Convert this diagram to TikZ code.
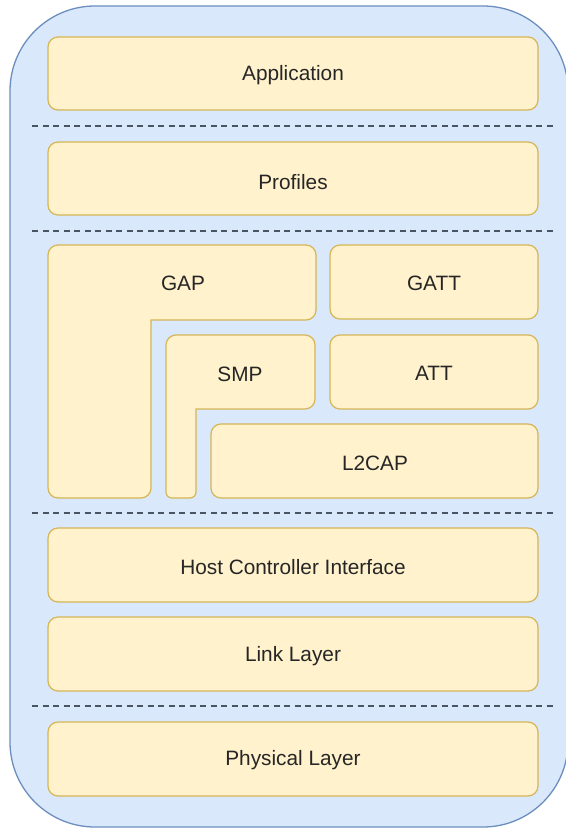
\documentclass[tikz,border=0pt]{standalone}
\usepackage{fontspec}
\setmainfont{Liberation Sans}
\definecolor{outerfill}{HTML}{DAE8FC}
\definecolor{outerdraw}{HTML}{6C8EBF}
\definecolor{boxfill}{HTML}{FFF2CC}
\definecolor{boxdraw}{HTML}{D6B656}
\definecolor{sepcol}{HTML}{4A5563}
\tikzset{
  layer/.style={draw=boxdraw, fill=boxfill, line width=1.2pt, rounded corners=10pt},
  lbl/.style={font=\fontsize{20.8}{24}\selectfont, text=black!85, inner sep=0pt},
  sep/.style={draw=sepcol, line width=2pt, dash pattern=on 6pt off 4.5pt},
}
\begin{document}
\begin{tikzpicture}[x=1pt,y=-1pt]
\useasboundingbox (0,0) rectangle (565,829);
% outer container
\draw[draw=outerdraw, fill=outerfill, line width=1.3pt, rounded corners=85pt] (10,6) rectangle (568,827);
% layer boxes
\draw[layer] (48,37) rectangle (538,110);
\node[lbl] (app) at (293,75) {Application};
\draw[layer] (48,142) rectangle (538,215);
\node[lbl] (prof) at (293,182) {Profiles};
% GAP L-shape
\draw[layer] (48,245) -- (316,245) -- (316,320) [sharp corners] -- (151,320) [rounded corners=10pt] -- (151,498) -- (48,498) -- cycle;
\node[lbl] (gap) at (183,283) {GAP};
\draw[layer] (330,245) rectangle (538,319);
\node[lbl] (gatt) at (434,283) {GATT};
% SMP L-shape
\draw[layer] (166,335) -- (315,335) -- (315,409) [sharp corners] -- (196,409) [rounded corners=6pt] -- (196,498) -- (166,498) [rounded corners=10pt] -- cycle;
\node[lbl] (smp) at (240,374) {SMP};
\draw[layer] (330,335) rectangle (538,409);
\node[lbl] (att) at (434,373) {ATT};
\draw[layer] (211,424) rectangle (538,498);
\node[lbl] (l2cap) at (375,463) {L2CAP};
\draw[layer] (48,528) rectangle (538,602);
\node[lbl] (hci) at (293,567) {Host Controller Interface};
\draw[layer] (48,617) rectangle (538,691);
\node[lbl] (ll) at (293,656) {Link Layer};
\draw[layer] (48,722) rectangle (538,796);
\node[lbl] (phy) at (293,760) {Physical Layer};
% separators
\coordinate (s1a) at (32,126); \coordinate (s1b) at (553,126);
\coordinate (s2a) at (32,231); \coordinate (s2b) at (553,231);
\coordinate (s3a) at (32,513); \coordinate (s3b) at (553,513);
\coordinate (s4a) at (32,706); \coordinate (s4b) at (553,706);
\draw[sep] (s1a) -- (s1b);
\draw[sep] (s2a) -- (s2b);
\draw[sep] (s3a) -- (s3b);
\draw[sep] (s4a) -- (s4b);
\end{tikzpicture}
\end{document}
